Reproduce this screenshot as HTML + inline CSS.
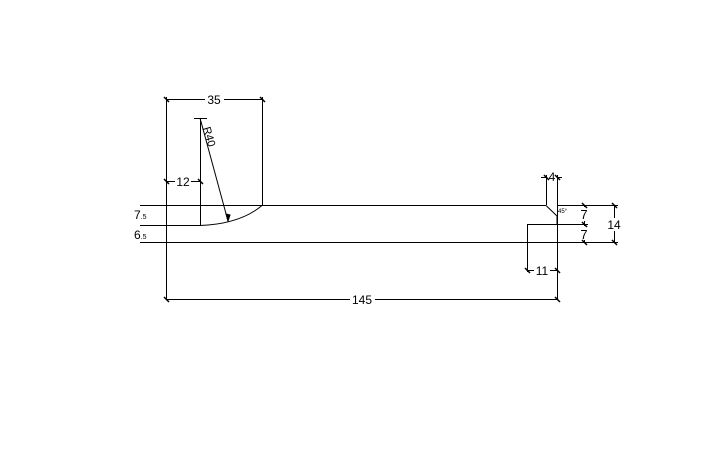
<!DOCTYPE html>
<html><head><style>body{margin:0;background:#fff}svg{display:block}text{font-family:"Liberation Sans",sans-serif;font-size:12px;fill:#000}</style></head><body>
<svg width="727" height="452" viewBox="0 0 727 452" stroke="#000" stroke-width="1" fill="none">
<line x1="140" y1="205.5" x2="546" y2="205.5"/>
<line x1="557" y1="205.5" x2="618" y2="205.5"/>
<line x1="140" y1="242.5" x2="618" y2="242.5"/>
<path d="M140 225.5 H200 Q240 224 262 205.5"/>
<path d="M546 205.5 L557 216 V224.5 H527.5 V272"/>
<line x1="557" y1="224.5" x2="588" y2="224.5"/>
<line x1="166.5" y1="97" x2="166.5" y2="300"/>
<line x1="262.5" y1="97" x2="262.5" y2="205"/>
<line x1="200.5" y1="118" x2="200.5" y2="225"/>
<line x1="194" y1="118.5" x2="207" y2="118.5"/>
<line x1="200" y1="118" x2="228" y2="221"/>
<line x1="546.5" y1="175" x2="546.5" y2="205"/>
<line x1="557.5" y1="175" x2="557.5" y2="300"/>
<line x1="166" y1="99.5" x2="205" y2="99.5"/><line x1="224" y1="99.5" x2="262" y2="99.5"/>
<text x="214" y="104" text-anchor="middle" stroke="none">35</text>
<line x1="166" y1="181.5" x2="175" y2="181.5"/><line x1="191" y1="181.5" x2="200" y2="181.5"/>
<text x="183" y="186" text-anchor="middle" stroke="none">12</text>
<line x1="166" y1="299.5" x2="350" y2="299.5"/><line x1="375" y1="299.5" x2="557" y2="299.5"/>
<text x="362" y="304" text-anchor="middle" stroke="none">145</text>
<line x1="527" y1="270.5" x2="534" y2="270.5"/><line x1="550" y1="270.5" x2="557" y2="270.5"/>
<text x="542" y="275" text-anchor="middle" stroke="none">11</text>
<line x1="541" y1="177.5" x2="546" y2="177.5"/><line x1="557" y1="177.5" x2="562" y2="177.5"/>
<text x="552" y="181" text-anchor="middle" stroke="none">4</text>
<line x1="584.5" y1="205" x2="584.5" y2="207"/><line x1="584.5" y1="221" x2="584.5" y2="226"/><line x1="584.5" y1="240" x2="584.5" y2="242"/>
<text x="584" y="219" text-anchor="middle" stroke="none" style="font-size:13px">7</text>
<text x="584" y="239" text-anchor="middle" stroke="none" style="font-size:13px">7</text>
<line x1="614.5" y1="205" x2="614.5" y2="218"/><line x1="614.5" y1="231" x2="614.5" y2="242"/>
<text x="614" y="229" text-anchor="middle" stroke="none">14</text>
<text x="134" y="219" stroke="none">7<tspan style="font-size:7px">.5</tspan></text>
<text x="134" y="239" stroke="none">6<tspan style="font-size:7px">.5</tspan></text>
<text x="558" y="213" stroke="none" style="font-size:6px">45°</text>
<text x="0" y="0" stroke="none" style="font-size:11px" transform="translate(203,128) rotate(74)">R40</text>
<g stroke-width="1.5">
<path d="M164 97l5 5M260 97l5 5M164 179l5 5M198 179l5 5M164 297l5 5M555 297l5 5M525 268l5 5M555 268l5 5M544 175l5 5M555 175l5 5M582 203l5 5M582 222l5 5M582 240l5 5M612 203l5 5M612 240l5 5"/>
</g>
<path d="M226 214l2 7 2-6z" fill="#000"/>
</svg>
</body></html>
